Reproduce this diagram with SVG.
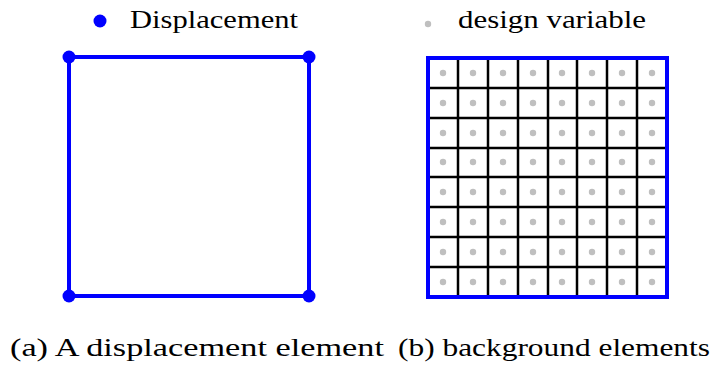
<svg xmlns="http://www.w3.org/2000/svg" width="717" height="366" viewBox="0 0 717 366">
<style>
.blue{stroke:#0000ff;stroke-width:4;fill:none}
.grid{stroke:#000;stroke-width:2.5}
.dv{fill:#bfbfbf}
.nd{fill:#0000ff}
</style>
<rect width="717" height="366" fill="#fff"/>
<g id="legend-a">
<circle class="nd" cx="100" cy="21" r="6.5"/>
<text x="130" y="28" font-size="26" font-family="Liberation Serif" fill="#000" textLength="168" lengthAdjust="spacingAndGlyphs">Displacement</text>
</g>
<g id="legend-b">
<circle class="dv" cx="428" cy="24" r="3.2"/>
<text x="458" y="28" font-size="26" font-family="Liberation Serif" fill="#000" textLength="188" lengthAdjust="spacingAndGlyphs">design variable</text>
</g>
<g id="captions">
<text x="10" y="356" font-size="26" font-family="Liberation Serif" fill="#000" textLength="374" lengthAdjust="spacingAndGlyphs">(a) A displacement element</text>
<text x="398" y="356" font-size="26" font-family="Liberation Serif" fill="#000" textLength="312" lengthAdjust="spacingAndGlyphs">(b) background elements</text>
</g>
<g id="element-a">
<rect class="blue" x="69" y="57" width="240" height="239"/>
<circle class="nd" cx="69" cy="57" r="6.5"/>
<circle class="nd" cx="309" cy="57" r="6.5"/>
<circle class="nd" cx="69" cy="296" r="6.5"/>
<circle class="nd" cx="309" cy="296" r="6.5"/>
</g>
<g id="element-b">
<g class="grid">
<line x1="458" y1="58" x2="458" y2="297"/>
<line x1="488" y1="58" x2="488" y2="297"/>
<line x1="518" y1="58" x2="518" y2="297"/>
<line x1="548" y1="58" x2="548" y2="297"/>
<line x1="577" y1="58" x2="577" y2="297"/>
<line x1="607" y1="58" x2="607" y2="297"/>
<line x1="637" y1="58" x2="637" y2="297"/>
<line x1="428" y1="88" x2="667" y2="88"/>
<line x1="428" y1="118" x2="667" y2="118"/>
<line x1="428" y1="148" x2="667" y2="148"/>
<line x1="428" y1="177" x2="667" y2="177"/>
<line x1="428" y1="207" x2="667" y2="207"/>
<line x1="428" y1="237" x2="667" y2="237"/>
<line x1="428" y1="267" x2="667" y2="267"/>
</g>
<rect class="blue" x="428" y="58" width="239" height="239"/>
<g class="dv">
<circle cx="443" cy="73" r="3.2"/><circle cx="473" cy="73" r="3.2"/><circle cx="503" cy="73" r="3.2"/><circle cx="533" cy="73" r="3.2"/><circle cx="562" cy="73" r="3.2"/><circle cx="592" cy="73" r="3.2"/><circle cx="622" cy="73" r="3.2"/><circle cx="652" cy="73" r="3.2"/>
<circle cx="443" cy="103" r="3.2"/><circle cx="473" cy="103" r="3.2"/><circle cx="503" cy="103" r="3.2"/><circle cx="533" cy="103" r="3.2"/><circle cx="562" cy="103" r="3.2"/><circle cx="592" cy="103" r="3.2"/><circle cx="622" cy="103" r="3.2"/><circle cx="652" cy="103" r="3.2"/>
<circle cx="443" cy="133" r="3.2"/><circle cx="473" cy="133" r="3.2"/><circle cx="503" cy="133" r="3.2"/><circle cx="533" cy="133" r="3.2"/><circle cx="562" cy="133" r="3.2"/><circle cx="592" cy="133" r="3.2"/><circle cx="622" cy="133" r="3.2"/><circle cx="652" cy="133" r="3.2"/>
<circle cx="443" cy="162" r="3.2"/><circle cx="473" cy="162" r="3.2"/><circle cx="503" cy="162" r="3.2"/><circle cx="533" cy="162" r="3.2"/><circle cx="562" cy="162" r="3.2"/><circle cx="592" cy="162" r="3.2"/><circle cx="622" cy="162" r="3.2"/><circle cx="652" cy="162" r="3.2"/>
<circle cx="443" cy="192" r="3.2"/><circle cx="473" cy="192" r="3.2"/><circle cx="503" cy="192" r="3.2"/><circle cx="533" cy="192" r="3.2"/><circle cx="562" cy="192" r="3.2"/><circle cx="592" cy="192" r="3.2"/><circle cx="622" cy="192" r="3.2"/><circle cx="652" cy="192" r="3.2"/>
<circle cx="443" cy="222" r="3.2"/><circle cx="473" cy="222" r="3.2"/><circle cx="503" cy="222" r="3.2"/><circle cx="533" cy="222" r="3.2"/><circle cx="562" cy="222" r="3.2"/><circle cx="592" cy="222" r="3.2"/><circle cx="622" cy="222" r="3.2"/><circle cx="652" cy="222" r="3.2"/>
<circle cx="443" cy="252" r="3.2"/><circle cx="473" cy="252" r="3.2"/><circle cx="503" cy="252" r="3.2"/><circle cx="533" cy="252" r="3.2"/><circle cx="562" cy="252" r="3.2"/><circle cx="592" cy="252" r="3.2"/><circle cx="622" cy="252" r="3.2"/><circle cx="652" cy="252" r="3.2"/>
<circle cx="443" cy="282" r="3.2"/><circle cx="473" cy="282" r="3.2"/><circle cx="503" cy="282" r="3.2"/><circle cx="533" cy="282" r="3.2"/><circle cx="562" cy="282" r="3.2"/><circle cx="592" cy="282" r="3.2"/><circle cx="622" cy="282" r="3.2"/><circle cx="652" cy="282" r="3.2"/>
</g>
</g>
<g id="connectors"></g>
</svg>
